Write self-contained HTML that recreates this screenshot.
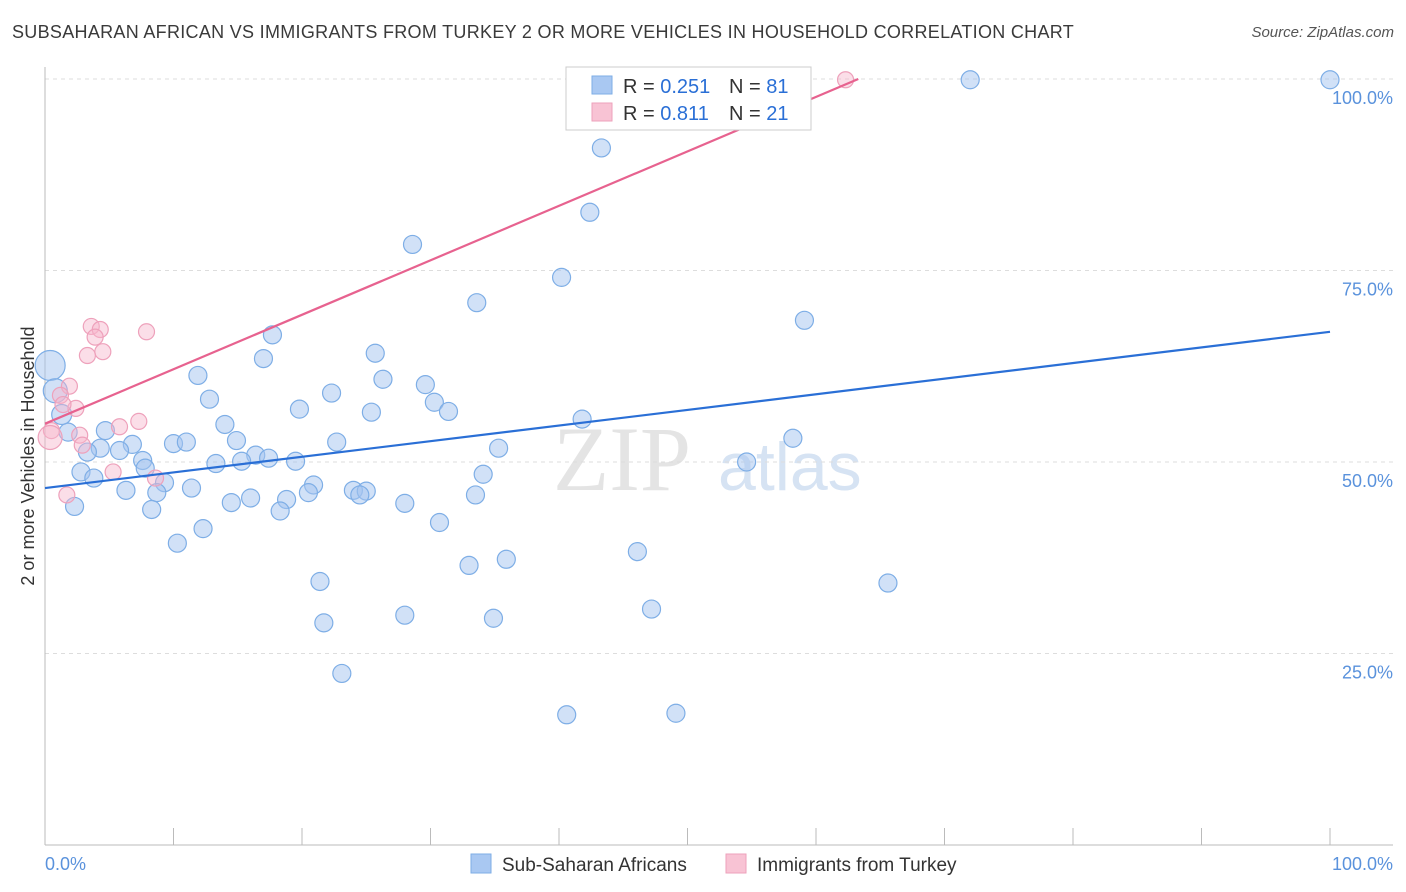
<!DOCTYPE html>
<html><head><meta charset="utf-8">
<style>
body{margin:0;background:#fff;font-family:"Liberation Sans",sans-serif;}
#wrap{position:relative;width:1406px;height:892px;overflow:hidden;}
.title{position:absolute;left:12px;top:22px;font-size:18px;color:#3a3a3a;letter-spacing:0.3px}
.source{position:absolute;right:12px;top:24px;font-size:15px;color:#555;font-style:italic}
</style></head>
<body>
<div id="wrap">
<div class="title">SUBSAHARAN AFRICAN VS IMMIGRANTS FROM TURKEY 2 OR MORE VEHICLES IN HOUSEHOLD CORRELATION CHART</div>
<div class="source">Source: ZipAtlas.com</div>
<svg id="svg" width="1406" height="892" style="position:absolute;left:0;top:0"></svg>
</div>
<script>
const blueX=[100,72.0,43.3,42.4,28.6,40.2,33.6,59.1,17.7,17.0,25.7,11.9,26.3,29.6,22.3,12.8,30.3,19.8,25.4,31.4,41.8,14.0,1.8,4.7,14.9,58.2,10.0,11.0,6.8,4.3,22.7,3.3,5.8,35.3,16.4,17.4,7.6,15.3,13.3,19.5,54.6,2.8,7.8,34.1,3.8,9.3,11.4,20.9,6.3,8.7,24.0,25.0,20.5,33.5,16.0,14.5,18.8,24.5,28.0,2.3,8.3,18.3,30.7,12.3,10.3,46.1,35.9,33.0,21.4,65.6,47.2,28.0,34.9,21.7,23.1,49.1,40.6,0.4,0.8,1.3];
const blueY=[99.9,99.9,91.0,82.6,78.4,74.1,70.8,68.5,66.6,63.5,64.2,61.3,60.8,60.1,59.0,58.2,57.8,56.9,56.5,56.6,55.6,54.9,53.9,54.1,52.8,53.1,52.4,52.6,52.3,51.8,52.6,51.3,51.5,51.8,50.9,50.5,50.2,50.1,49.8,50.1,50.0,48.7,49.2,48.4,47.9,47.3,46.6,47.0,46.3,46.0,46.3,46.2,46.0,45.7,45.3,44.7,45.1,45.7,44.6,44.2,43.8,43.6,42.1,41.3,39.4,38.3,37.3,36.5,34.4,34.2,30.8,30.0,29.6,29.0,22.4,17.2,17.0,62.6,59.3,56.2];
const pinkX=[62.3,3.6,4.3,7.9,3.9,4.5,3.3,1.9,1.2,2.4,1.4,7.3,5.8,0.5,2.7,0.4,2.9,5.3,8.6,1.7];
const pinkY=[99.9,67.7,67.3,67.0,66.3,64.4,63.9,59.9,58.7,57.0,57.5,55.3,54.6,54.1,53.5,53.2,52.2,48.7,47.9,45.7];
const blueTrend=[46.6,0.204]; // intercept, slope
const pinkTrend=[55.0,0.711];
const yTicks=[25,50,75,100];
const yTickLabels=["25.0%","50.0%","75.0%","100.0%"];

const X0=45,X1=1330,Y0=845,Y100=79;
const sx=v=>X0+(X1-X0)*v/100;
const sy=v=>Y0-(Y0-Y100)*v/100;
const svg=document.getElementById('svg');
const NS='http://www.w3.org/2000/svg';
function mk(t,a){const e=document.createElementNS(NS,t);for(const k in a)e.setAttribute(k,a[k]);svg.appendChild(e);return e;}

let w=mk('text',{x:553,y:490,'font-size':92,'font-family':'Liberation Serif,serif',fill:'#e4e4e4'});w.textContent='ZIP';


let w2=mk('text',{x:718,y:490,'font-size':68,'font-family':'Liberation Sans,sans-serif',fill:'#d6e3f3'});w2.textContent='atlas';



yTicks.forEach((t,i)=>{
  const g=mk('line',{x1:X0,x2:1393,y1:sy(t),y2:sy(t),stroke:'#ddd','stroke-dasharray':'4,4'});
  
  
  const l=mk('text',{x:1393,y:sy(t)+25,'text-anchor':'end','font-size':18,fill:'#5a92dc'});
  l.textContent=yTickLabels[i];
  
  
});
let ax=mk('line',{x1:X0,x2:1393,y1:Y0,y2:Y0,stroke:'#bbb'});


let ay=mk('line',{x1:X0,x2:X0,y1:67,y2:Y0,stroke:'#bbb'});


for(let i=0;i<=10;i++){
  const t=mk('line',{x1:sx(i*10),x2:sx(i*10),y1:828,y2:Y0,stroke:'#bbb'});
  
  
}
let xl=mk('text',{x:45,y:870,'font-size':18,fill:'#5a92dc'});xl.textContent='0.0%';


let xr=mk('text',{x:1393,y:870,'text-anchor':'end','font-size':18,fill:'#5a92dc'});xr.textContent='100.0%';


let yt=mk('text',{x:34,y:456,'font-size':18,fill:'#333',transform:'rotate(-90 34 456)','text-anchor':'middle'});yt.textContent='2 or more Vehicles in Household';



function big(i,n){return i>=n-3?[15,12,10][i-(n-3)]:9;}
blueX.forEach((v,i)=>{
  const r=big(i,blueX.length);
  const c=mk('circle',{cx:sx(v),cy:sy(blueY[i]),r:r,fill:'rgba(164,196,240,0.5)',stroke:'#7eaee6','stroke-width':1.2});
  
  
});
pinkX.forEach((v,i)=>{
  const r=i===15?12:8;
  const c=mk('circle',{cx:sx(v),cy:sy(pinkY[i]),r:r,fill:'rgba(246,182,204,0.45)',stroke:'#eea1bb','stroke-width':1.2});
  
  
});
let bl=mk('line',{x1:sx(0),y1:sy(blueTrend[0]),x2:sx(100),y2:sy(blueTrend[0]+100*blueTrend[1]),stroke:'#2a6fd6','stroke-width':2.2});


const pxEnd=(100-pinkTrend[0])/pinkTrend[1];
let pl=mk('line',{x1:sx(0),y1:sy(pinkTrend[0]),x2:sx(pxEnd),y2:sy(100),stroke:'#e7628f','stroke-width':2.2});



let lb=mk('rect',{x:566,y:67,width:245,height:63,fill:'#fff',stroke:'#ccc'});


[[76,'#a9c8f2','#7eaee6','0.251','81'],[103,'#f8c3d4','#eea1bb','0.811','21']].forEach((r,i)=>{
  const s=mk('rect',{x:592,y:r[0],width:20,height:18,fill:r[1],stroke:r[2]});
  
  
  const t=mk('text',{x:623,y:r[0]+17,'font-size':20,fill:'#333'});
  t.innerHTML='R = <tspan fill="#2a6fd6">'+(i?' ':'')+r[3]+'</tspan><tspan x="729">N = </tspan><tspan fill="#2a6fd6">'+r[4]+'</tspan>';
  
  
});
[[471,'#a9c8f2','#7eaee6','Sub-Saharan Africans'],[726,'#f8c3d4','#eea1bb','Immigrants from Turkey']].forEach(r=>{
  const s=mk('rect',{x:r[0],y:854,width:20,height:19,fill:r[1],stroke:r[2]});
  
  
  const t=mk('text',{x:r[0]+31,y:871,'font-size':19,fill:'#333'});t.textContent=r[3];
  
  
});
</script>
</body></html>
